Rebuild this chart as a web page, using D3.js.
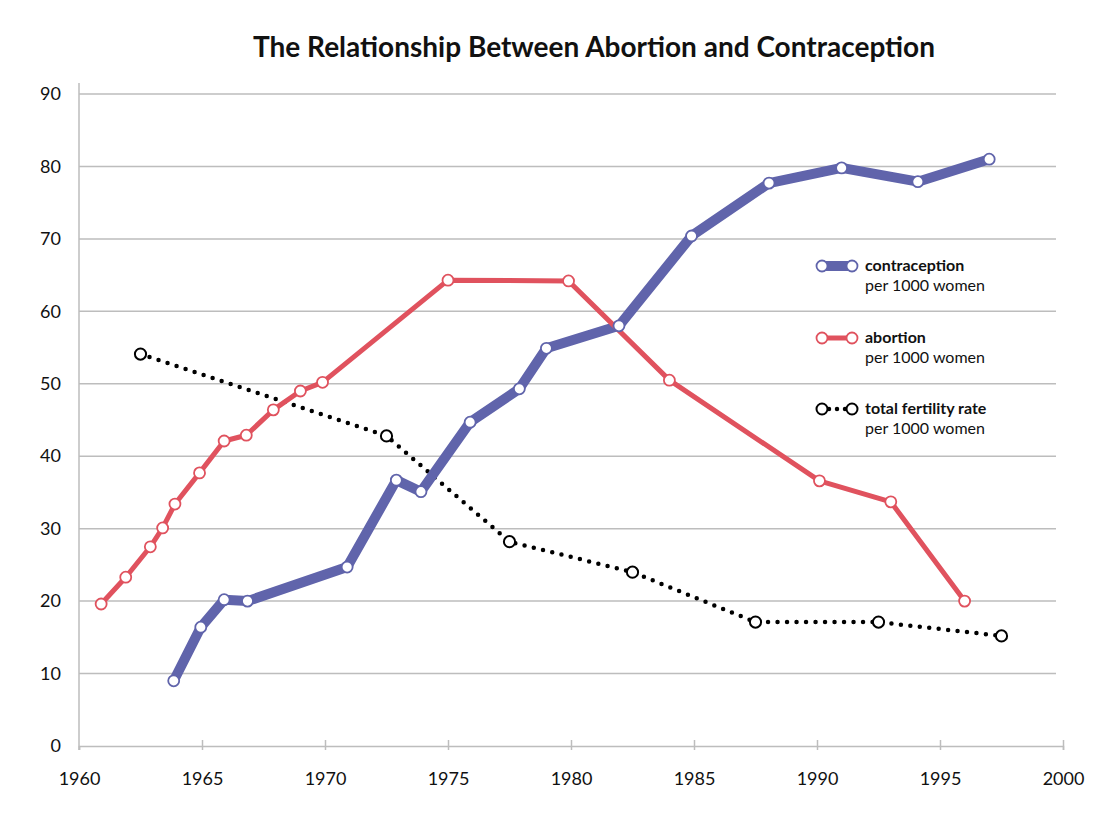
<!DOCTYPE html>
<html><head><meta charset="utf-8">
<script src="https://cdn.jsdelivr.net/npm/d3@7"></script>
<style>body{margin:0;background:#fff;} text{font-family:Lato,"Open Sans",sans-serif;}</style>
</head><body><svg id="c" width="1120" height="825"></svg>
<script>
const abortionYears = [1960.9,1961.9,1962.9,1963.4,1963.9,1964.9,1965.9,1966.8,1967.9,1969.0,1969.9,1975.0,1979.9,1984.0,1990.1,1993.0,1996.0];
const abortionValues = [19.6,23.3,27.5,30.1,33.4,37.7,42.1,42.9,46.4,49.0,50.2,64.3,64.2,50.5,36.6,33.7,20.0];
const contraYears = [1963.85,1964.95,1965.9,1966.85,1970.9,1972.9,1973.9,1975.9,1977.9,1979.0,1981.95,1984.9,1988.05,1991.0,1994.1,1997.0];
const contraValues = [9.0,16.4,20.2,20.0,24.7,36.7,35.1,44.7,49.3,54.9,58.0,70.4,77.7,79.8,77.9,81.0];
const fertYears = [1962.5,1972.5,1977.5,1982.5,1987.5,1992.5,1997.5];
const fertValues = [54.1,42.8,28.2,24.0,17.1,17.1,15.2];
const xTicks = [1960,1965,1970,1975,1980,1985,1990,1995,2000];
const yTicks = [0,10,20,30,40,50,60,70,80,90];

const svg = d3.select("#c");
const x = d3.scaleLinear().domain([1960,2000]).range([79,1063]);
const y = d3.scaleLinear().domain([0,90]).range([746,94]);
const blue = "#6064ab", red = "#e0525e";

svg.append("text").attr("x",594).attr("y",57).attr("text-anchor","middle")
  .attr("font-size",28).attr("font-weight","bold").attr("fill","#111")
  .text("The Relationship Between Abortion and Contraception");

// grid
const grid = svg.append("g");
yTicks.filter(d=>d>0).forEach(d=>{
  grid.append("line").attr("x1",79).attr("x2",1056).attr("y1",y(d)).attr("y2",y(d))
    .attr("stroke","#bdbdbd").attr("stroke-width",1.5);
});
svg.append("line").attr("x1",79).attr("x2",79).attr("y1",83).attr("y2",750).attr("stroke","#bdbdbd").attr("stroke-width",1.5);
const xAxis = d3.axisBottom(x).tickValues(xTicks).tickFormat(d3.format("d")).tickSize(4).tickPadding(22);
const gx = svg.append("g").attr("transform","translate(0,746)").call(xAxis);
gx.select(".domain").attr("stroke","#bdbdbd").attr("stroke-width",1.5);
gx.selectAll(".tick line").attr("stroke","#bdbdbd").attr("stroke-width",1.5).attr("y1",d=>d===1960?0:-6);
gx.selectAll(".tick text").attr("font-size",18).attr("fill","#111").attr("font-family","Lato");
const yAxis = d3.axisLeft(y).tickValues(yTicks).tickSize(0).tickPadding(18);
const gy = svg.append("g").attr("transform","translate(79,0)").call(yAxis);
gy.select(".domain").remove();
gy.selectAll(".tick text").attr("font-size",18).attr("fill","#111").attr("font-family","Lato");

const line = d3.line().x(d=>x(d[0])).y(d=>y(d[1]));
const contra = contraYears.map((d,i)=>[d,contraValues[i]]);
const abort = abortionYears.map((d,i)=>[d,abortionValues[i]]);
const fert = fertYears.map((d,i)=>[d,fertValues[i]]);

svg.append("path").datum(fert).attr("d",line).attr("fill","none").attr("stroke","#000")
  .attr("stroke-width",4.5).attr("stroke-linecap","round").attr("stroke-dasharray","0 9.5");
svg.append("path").datum(contra).attr("d",line).attr("fill","none").attr("stroke",blue)
  .attr("stroke-width",10).attr("stroke-linejoin","round");
svg.append("path").datum(abort).attr("d",line).attr("fill","none").attr("stroke",red)
  .attr("stroke-width",5).attr("stroke-linejoin","round");

function markers(data,col,r,sw){
  svg.append("g").selectAll("circle").data(data).join("circle")
    .attr("cx",d=>x(d[0])).attr("cy",d=>y(d[1])).attr("r",r)
    .attr("fill","#fff").attr("stroke",col).attr("stroke-width",sw);
}
markers(fert,"#000",5.6,2);
markers(abort,red,5.5,1.8);
markers(contra,blue,5.5,1.8);

const legend = [
  {name:"contraception", col:blue, w:10, dash:null, ly:266},
  {name:"abortion", col:red, w:5, dash:null, ly:338},
  {name:"total fertility rate", col:"#000", w:4.5, dash:"0 8", ly:409}
];
legend.forEach(l=>{
  const g = svg.append("g");
  const ln = g.append("line").attr("x1",822).attr("x2",852).attr("y1",l.ly).attr("y2",l.ly)
    .attr("stroke",l.col).attr("stroke-width",l.w);
  if(l.dash){ ln.attr("stroke-dasharray",l.dash).attr("stroke-linecap","round").attr("x1",829); }
  [822,852].forEach(cx=>g.append("circle").attr("cx",cx).attr("cy",l.ly).attr("r",5.5)
    .attr("fill","#fff").attr("stroke",l.col).attr("stroke-width",l.dash?2:1.8));
  g.append("text").attr("x",865).attr("y",l.ly+5).attr("font-size",16).attr("font-weight","bold").attr("fill","#111").text(l.name);
  g.append("text").attr("x",865).attr("y",l.ly+25).attr("font-size",16).attr("fill","#111").text("per 1000 women");
});
</script></body></html>
